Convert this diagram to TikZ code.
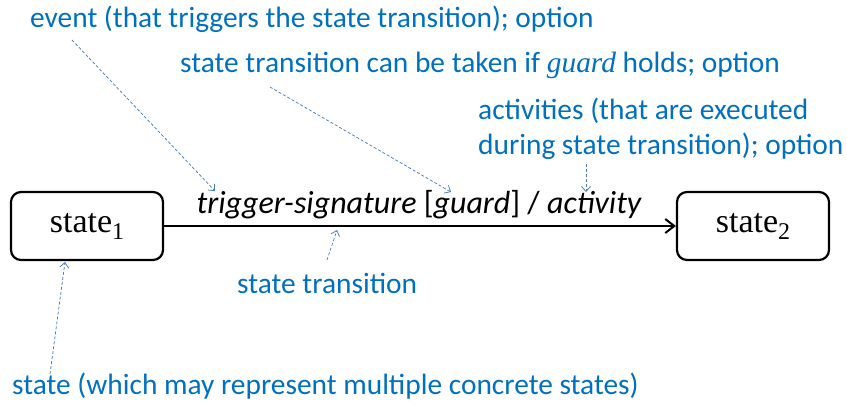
\documentclass[tikz,border=0pt]{standalone}
\usepackage{fontspec}
\setmainfont{Liberation Serif}
\newfontfamily\calib{Carlito}
\usetikzlibrary{arrows.meta}
\definecolor{note}{HTML}{0070C0}
\definecolor{pointer}{HTML}{4A7EBB}
\newcommand{\stsub}[1]{\raisebox{-7pt}{\fontsize{24}{28}\selectfont #1}}
\tikzset{
  statebox/.style={draw, line width=2.2pt, rounded corners=10pt, minimum width=152pt, minimum height=68pt, font=\fontsize{34}{38}\selectfont, inner sep=0pt},
  notetext/.style={text=note, font=\calib\fontsize{29.4}{35}\selectfont, inner sep=0pt},
  pointer/.style={draw=pointer, line width=0.75pt, dash pattern=on 3pt off 2pt, -{Straight Barb[length=5pt,width=9pt,line width=0.75pt]}},
  transition/.style={line width=2pt, -{Straight Barb[length=9pt,width=14pt,line width=2pt]}},
  translabel/.style={font=\calib\itshape\fontsize{32}{36}\selectfont, inner sep=0pt}
}
\begin{document}
\begin{tikzpicture}[x=1pt,y=-1pt]
\useasboundingbox (0,0) rectangle (847,405);
\node[statebox] (s1) at (87,226) {state\stsub{1}};
\node[statebox] (s2) at (753,226) {state\stsub{2}};
\draw[transition] (s1) -- (s2);
\node[translabel, anchor=base] (lab) at (419,213) {trigger-signature \upshape[\itshape guard\upshape] / \itshape activity};
\node[notetext, anchor=west] (ev) at (30,19) {event (that triggers the state transition); option};
\node[notetext, anchor=west] (gd) at (180,65) {state transition can be taken if {\rmfamily\itshape guard} holds; option};
\node[notetext, anchor=west, align=left] (ac) at (478,129) {activities (that are executed\\during state transition); option};
\node[notetext, anchor=west] (tr) at (237,283) {state transition};
\node[notetext, anchor=west] (st) at (12,386) {state (which may represent multiple concrete states)};
\coordinate (evs) at (72,40);
\coordinate (eve) at (215,191);
\coordinate (gds) at (270,87);
\coordinate (gde) at (451,192);
\coordinate (acs) at (586,164);
\coordinate (ace) at (586,192);
\coordinate (trs) at (327,260);
\coordinate (tre) at (337,230);
\coordinate (sts) at (50,374);
\coordinate (ste) at (65,262);
\draw[pointer] (evs) -- (eve);
\draw[pointer] (gds) -- (gde);
\draw[pointer] (acs) -- (ace);
\draw[pointer] (trs) -- (tre);
\draw[pointer] (sts) -- (ste);
\end{tikzpicture}
\end{document}
